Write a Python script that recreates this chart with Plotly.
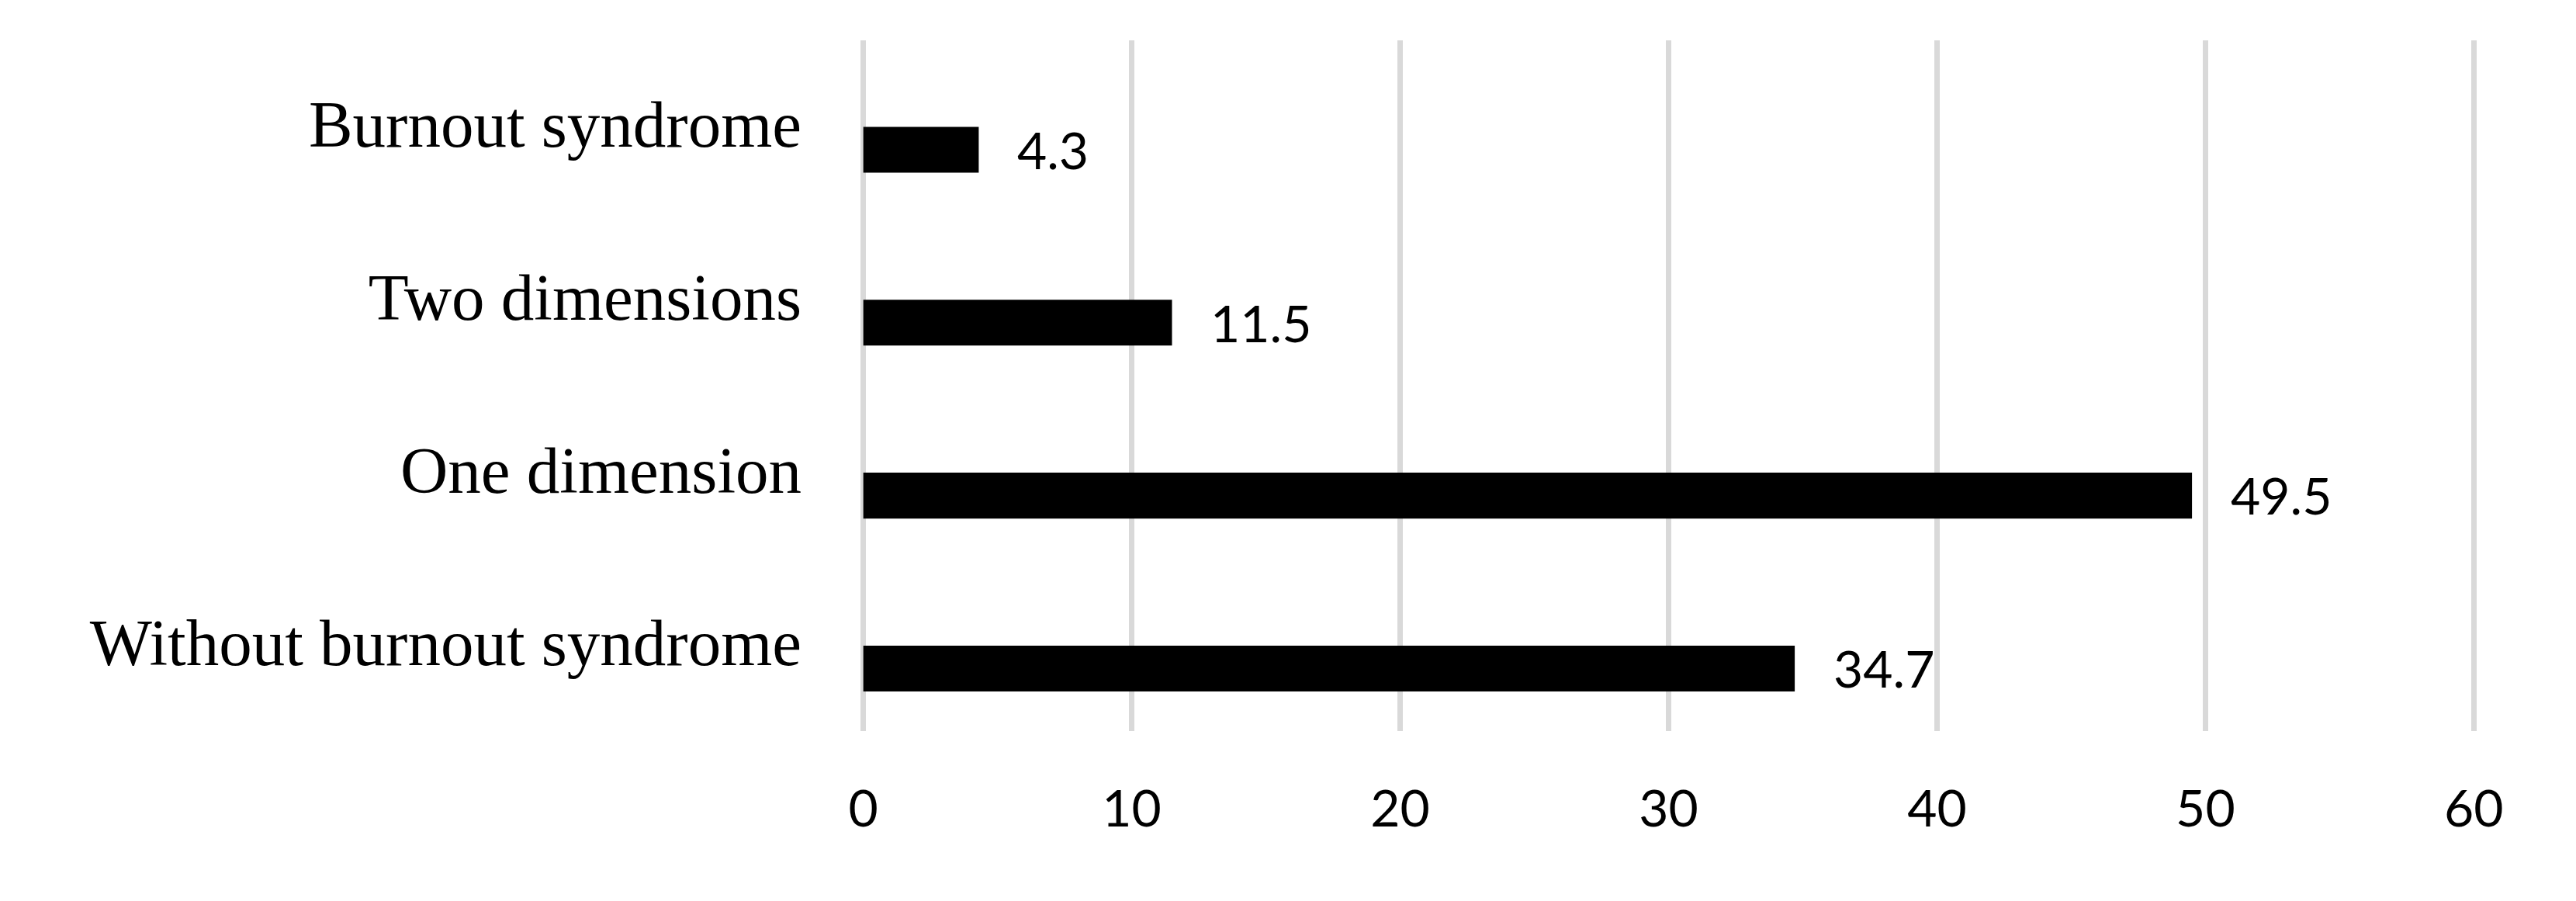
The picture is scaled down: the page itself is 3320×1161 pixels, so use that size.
import plotly.graph_objects as go

categories = ["Without burnout syndrome", "One dimension", "Two dimensions", "Burnout syndrome"]
values = [34.7, 49.5, 11.5, 4.3]
x_ticks = [0, 10, 20, 30, 40, 50, 60]

# page body has an 8px default margin; compensate so the figure lands at the target pixels
BODY = 8
W, H = 3320 - BODY, 1161 - BODY
num_font = "Lato"
cat_font = "Liberation Serif"

fig = go.Figure()
fig.add_trace(go.Bar(
    x=values, y=categories, orientation="h",
    marker=dict(color="#000000", line=dict(width=0)),
    width=0.265, offset=-0.284,
    hoverinfo="skip",
))

for v, c in zip(values, categories):
    fig.add_annotation(
        x=v, y=c, xref="x", yref="y", text=f"{v:.1f}",
        showarrow=False, xanchor="left", yanchor="middle",
        xshift=48, yshift=-33,
        font=dict(family=num_font, size=66, color="#000000"),
    )

# target plot area (absolute page pixels): x 0 -> 1112.5, 60 -> 3188 ; y 52 -> 942
px_per_unit = (3188 - 1112.5) / 60.0
xr = [-0.25, 60.25]
plot_left = 1112.5 - 0.25 * px_per_unit
plot_w = (xr[1] - xr[0]) * px_per_unit
left = plot_left - BODY
right = W - (left + plot_w)
top = 52 - BODY
bottom = H - (942 - BODY)

fig.update_layout(
    width=W, height=H,
    margin=dict(l=left, r=right, t=top, b=bottom, pad=0),
    paper_bgcolor="white", plot_bgcolor="white",
    showlegend=False,
    xaxis=dict(
        range=xr, tickvals=x_ticks, ticktext=[str(t) for t in x_ticks],
        showgrid=True, gridcolor="#D9D9D9", gridwidth=7,
        zeroline=False, showline=False, ticks="",
        ticklabelstandoff=56,
        tickfont=dict(family=num_font, size=66, color="#000000"),
        fixedrange=True,
    ),
    yaxis=dict(
        type="category", categoryorder="array", categoryarray=categories,
        range=[-0.513, 3.481],
        showgrid=False, zeroline=False, showline=False, ticks="",
        ticklabelstandoff=70,
        tickfont=dict(family=cat_font, size=85, color="#000000"),
        fixedrange=True,
    ),
)

fig.write_html("out.html")
